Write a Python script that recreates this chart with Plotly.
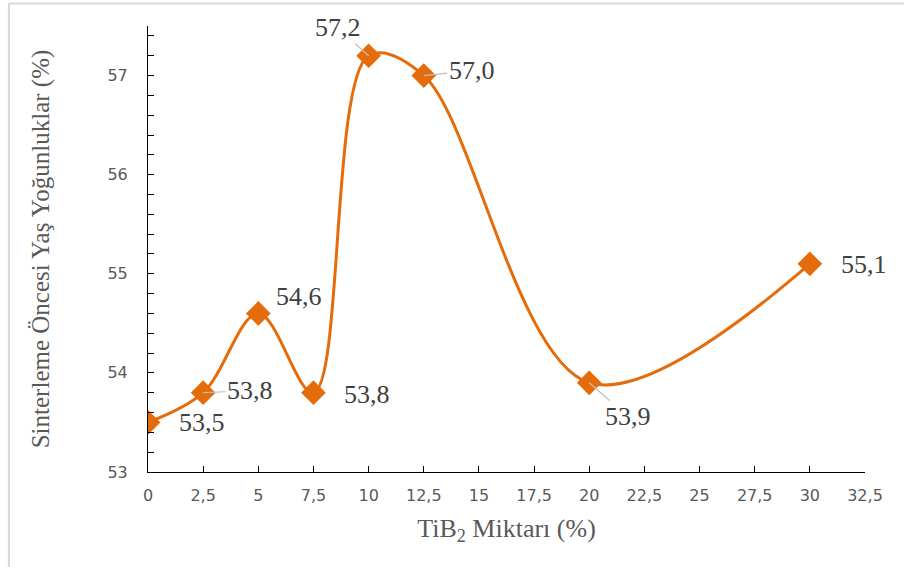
import plotly.graph_objects as go

# Data
tib2 = [0, 2.5, 5, 7.5, 10, 12.5, 20, 30]
density = [53.5, 53.8, 54.6, 53.8, 57.2, 57.0, 53.9, 55.1]
x_ticks = [0, 2.5, 5, 7.5, 10, 12.5, 15, 17.5, 20, 22.5, 25, 27.5, 30, 32.5]
x_tick_text = ["0", "2,5", "5", "7,5", "10", "12,5", "15", "17,5", "20", "22,5", "25", "27,5", "30", "32,5"]
y_ticks = [53, 54, 55, 56, 57]

# label offsets in pixels (dx, dy) and whether a leader line is drawn
label_dx = [54, 47, 41, 54, -31, 48, 39, 54]
label_dy = [0, -2, -17, 2, -28, -5, 34, 1]
leader = [False, True, False, False, True, True, True, False]

ORANGE = "#E46C0A"
GRAY = "#595959"

fig = go.Figure()
fig.add_trace(go.Scatter(
    x=tib2, y=density, mode="lines+markers",
    line=dict(color=ORANGE, width=3, shape="spline", smoothing=1),
    marker=dict(symbol="diamond", size=19, color=ORANGE),
    showlegend=False, hoverinfo="skip",
))

for xv, yv, dx, dy, ld in zip(tib2, density, label_dx, label_dy, leader):
    fig.add_annotation(
        x=xv, y=yv, xref="x", yref="y",
        text=f"{yv:.1f}".replace(".", ","),
        showarrow=True, ax=dx, ay=dy, axref="pixel", ayref="pixel",
        arrowhead=0, arrowwidth=1.2,
        arrowcolor="#BFBFBF" if ld else "rgba(0,0,0,0)",
        standoff=0,
        font=dict(family="Liberation Serif", size=26, color="#404040"),
    )

fig.update_layout(
    width=904, height=567,
    margin=dict(l=148, r=39, t=26, b=95),
    paper_bgcolor="white", plot_bgcolor="white",
    shapes=[
        dict(type="line", xref="paper", yref="paper", x0=-0.194, x1=1.06, y0=1.0505, y1=1.0505,
             line=dict(color="#D9D9D9", width=2)),
        dict(type="line", xref="paper", yref="paper", x0=-0.194, x1=-0.194, y0=-0.22, y1=1.0505,
             line=dict(color="#D9D9D9", width=2)),
    ],
)

fig.update_xaxes(
    range=[0, 32.5], tickvals=x_ticks, ticktext=x_tick_text,
    showline=True, linecolor="#000000", linewidth=1,
    ticks="inside", ticklen=6, tickcolor="#000000",
    showgrid=False, zeroline=False,
    tickfont=dict(family="DejaVu Sans", size=16, color=GRAY),
    ticklabelstandoff=9,
    title=dict(text="TiB<sub>2</sub> Miktarı (%)", standoff=14,
               font=dict(family="Liberation Serif", size=26, color=GRAY)),
    automargin=False,
)
fig.update_yaxes(
    range=[53, 57.5], tickvals=y_ticks, ticktext=[str(v) for v in y_ticks],
    showline=True, linecolor="#000000", linewidth=1,
    ticks="inside", ticklen=6, tickcolor="#000000",
    minor=dict(dtick=0.2, ticks="inside", ticklen=6, tickcolor="#000000", showgrid=False),
    showgrid=False, zeroline=False,
    tickfont=dict(family="DejaVu Sans", size=16, color=GRAY),
    ticklabelstandoff=16,
    title=dict(text="Sinterleme Öncesi Yaş Yoğunluklar (%)", standoff=50,
               font=dict(family="Liberation Serif", size=25, color=GRAY)),
    automargin=False,
)

fig.write_html("out.html")
